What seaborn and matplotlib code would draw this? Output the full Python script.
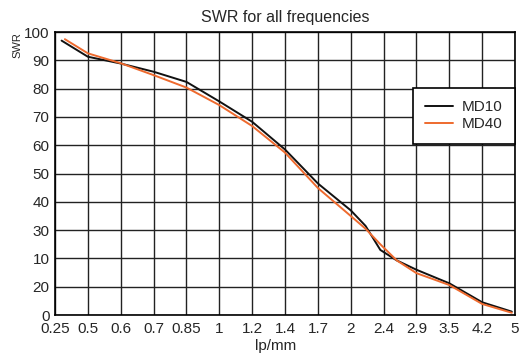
import numpy as np
import pandas as pd
import seaborn as sns
import matplotlib.pyplot as plt

# tick labels as printed on the chart
x_labels = ["0.25", "0.5", "0.6", "0.7", "0.85", "1", "1.2", "1.4",
            "1.7", "2", "2.4", "2.9", "3.5", "4.2", "5"]
y_labels = ["0", "20", "10", "30", "40", "50", "60", "70", "80", "90", "100"]

# positions along the categorical x axis (index of tick, fractional between ticks)
md10_pos = [0.2, 1, 2, 3, 4, 5, 6, 7, 8, 9, 9.45, 9.9, 10.4, 11, 12, 13, 13.9]
md10_swr = [97, 91.3, 88.9, 86, 82.4, 75.5, 68.3, 58.5, 46.5, 37, 31.5, 23, 19.3, 16, 11.2, 4.5, 1.2]
md40_pos = [0.3, 1, 2, 3, 4, 5, 6, 7, 8, 9, 9.45, 9.9, 10.4, 11, 12, 13, 13.9]
md40_swr = [97.5, 92.5, 89, 84.8, 80.4, 74.2, 66.8, 57.4, 44.9, 35, 30.5, 25, 19.3, 14.8, 10.6, 3.9, 0.8]

df = pd.concat([
    pd.DataFrame({"pos": md10_pos, "swr": md10_swr, "series": "MD10"}),
    pd.DataFrame({"pos": md40_pos, "swr": md40_swr, "series": "MD40"}),
])

sns.set_style("white")
plt.rcParams["font.family"] = ["Liberation Sans", "DejaVu Sans"]

fig = plt.figure(figsize=(5.31, 3.53), dpi=100)
ax = fig.add_axes([0.1036, 0.1076, 0.8664, 0.8014])

sns.lineplot(data=df, x="pos", y="swr", hue="series", sort=False,
             palette={"MD10": "#111111", "MD40": "#ee6a2e"},
             linewidth=1.4, ax=ax, zorder=3)

ax.set_xlim(0, len(x_labels) - 1)
ax.set_ylim(0, 100)
ax.set_xticks(np.arange(len(x_labels)))
ax.set_xticklabels(x_labels, fontsize=11)
ax.set_yticks(np.arange(0, 101, 10))
ax.set_yticklabels(y_labels, fontsize=11)
ax.tick_params(axis="y", length=0, pad=4)
ax.tick_params(axis="x", length=0, pad=5)
ax.grid(True, color="#222222", linewidth=1.0)
ax.set_axisbelow(True)
for s in ax.spines.values():
    s.set_color("black")
    s.set_linewidth(1.2)

ax.set_xlabel("lp/mm", fontsize=11)
ax.xaxis.set_label_coords(0.48, -0.085)
ax.set_ylabel("SWR", fontsize=8, rotation=90)
ax.yaxis.set_label_coords(-0.07, 0.955)
ax.set_title("SWR for all frequencies", fontsize=11.5, pad=7)

leg = ax.legend(loc="upper right", bbox_to_anchor=(1.0, 0.802), borderaxespad=0,
                fontsize=11, frameon=True, fancybox=False, handlelength=1.8,
                labelspacing=0.2, borderpad=0.8, handletextpad=0.6)
leg.get_frame().set_edgecolor("black")
leg.get_frame().set_linewidth(1.2)
leg.get_frame().set_alpha(1)
for line in leg.get_lines():
    line.set_linewidth(1.4)

fig.savefig("out.png", dpi=100)
